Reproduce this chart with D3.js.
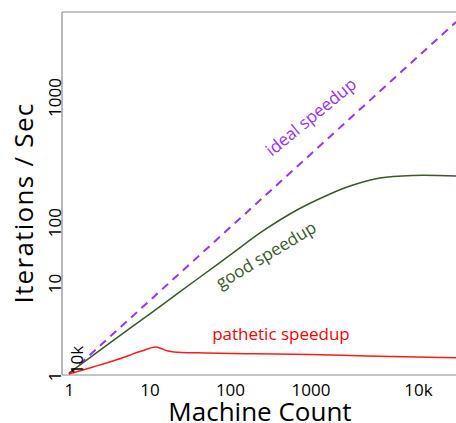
<!DOCTYPE html>
<html>
<head>
<meta charset="utf-8">
<script src="https://cdn.jsdelivr.net/npm/d3@7"></script>
<style>
  html, body { margin: 0; padding: 0; background: #fff; }
  svg { display: block; }
  text { font-family: "Open Sans", "Noto Sans", sans-serif; }
</style>
</head>
<body>
<svg id="chart" width="456" height="423"></svg>
<script>
// ---- data ----
const xTickValues = [1, 10, 100, 1000, 21600];
const xTickLabels = ["1", "10", "100", "1000", "10k"];
const yTickValues = [0.94, 17.5, 119, 6080];
const yTickLabels = ["1", "10", "100", "1000"];

const idealX = [1, 64200];
const idealY = [1, 64200];

const goodX = [1, 5.7, 14.7, 39, 100, 257, 680, 1750, 3100, 7300, 18800, 64200];
const goodY = [1.03, 4.2, 8.95, 19.7, 42.1, 90, 174, 288, 370, 476, 515, 507];

const patheticX = [1, 2, 4, 8, 12, 14, 17, 25, 50, 200, 1000, 5000, 64200];
const patheticY = [1.0, 1.25, 1.58, 2.06, 2.34, 2.23, 2.06, 1.97, 1.94, 1.89, 1.85, 1.76, 1.67];

const annotations = [
  { text: "ideal speedup",    x: 1014, y: 3240, angle: -39.5, color: "#9b30ff" },
  { text: "good speedup",     x: 280,  y: 42.3, angle: -31,   color: "#375a27" },
  { text: "pathetic speedup", x: 430,  y: 3.57, angle: 0,     color: "#ff0000" },
  { text: "10k",              x: 1.26, y: 1.55, angle: -90,   color: "#000000" }
];

// ---- layout ----
const svg = d3.select("#chart");
const mLeft = 62, mTop = 12, mRight = 456, mBottom = 375;

const x = d3.scaleLog().domain([0.82, 64200]).range([mLeft, mRight]);
const y = d3.scaleLog().domain([0.97, 88000]).range([mBottom, mTop]);

svg.append("defs").append("clipPath").attr("id", "clip")
  .append("rect").attr("x", mLeft).attr("y", mTop)
  .attr("width", mRight - mLeft).attr("height", mBottom - mTop);

// frame
const frame = svg.append("g").attr("stroke", "#8a8a8a").attr("stroke-width", 1.2).attr("fill", "none");
frame.append("line").attr("x1", mLeft).attr("x2", mLeft).attr("y1", mTop).attr("y2", mBottom);
frame.append("line").attr("x1", mLeft).attr("x2", mRight).attr("y1", mTop).attr("y2", mTop);
frame.append("line").attr("x1", mLeft).attr("x2", mRight).attr("y1", mBottom).attr("y2", mBottom);

// x axis
const xAxis = d3.axisBottom(x)
  .tickValues(xTickValues)
  .tickFormat((d, i) => xTickLabels[i])
  .tickSize(0).tickPadding(9);
const gx = svg.append("g").attr("transform", `translate(0,${mBottom})`).call(xAxis);
gx.select(".domain").remove();
gx.selectAll("text").attr("font-size", 17).attr("fill", "#000")
  .style("font-family", '"Open Sans", sans-serif');

// y axis (rotated labels)
const yAxis = d3.axisLeft(y)
  .tickValues(yTickValues)
  .tickFormat((d, i) => yTickLabels[i])
  .tickSize(0).tickPadding(0);
const gy = svg.append("g").attr("transform", `translate(${mLeft},0)`).call(yAxis);
gy.select(".domain").remove();
gy.selectAll(".tick text")
  .attr("x", null).attr("dy", null)
  .attr("transform", "translate(-1,0) rotate(-90)")
  .attr("text-anchor", "middle")
  .attr("font-size", 17).attr("fill", "#000")
  .style("font-family", '"Open Sans", sans-serif');

// lines
const plot = svg.append("g").attr("clip-path", "url(#clip)");
const redLine = d3.line().x(d => x(d[0])).y(d => y(d[1])).curve(d3.curveMonotoneX);
const greenLine = d3.line().x(d => x(d[0])).y(d => y(d[1])).curve(d3.curveCatmullRom.alpha(0.5));

plot.append("path")
  .datum(idealX.map((v, i) => [v, idealY[i]]))
  .attr("d", d3.line().x(d => x(d[0])).y(d => y(d[1])))
  .attr("fill", "none").attr("stroke", "#9b30ff").attr("stroke-width", 2)
  .attr("stroke-dasharray", "8,6");

plot.append("path")
  .datum(goodX.map((v, i) => [v, goodY[i]]))
  .attr("d", greenLine)
  .attr("fill", "none").attr("stroke", "#375a27").attr("stroke-width", 1.5);

plot.append("path")
  .datum(patheticX.map((v, i) => [v, patheticY[i]]))
  .attr("d", redLine)
  .attr("fill", "none").attr("stroke", "#ff1a1a").attr("stroke-width", 1.5);

// annotations
svg.append("g").selectAll("text").data(annotations).join("text")
  .attr("transform", d => `translate(${x(d.x)},${y(d.y)}) rotate(${d.angle})`)
  .attr("text-anchor", "middle")
  .attr("dy", "0.35em")
  .attr("font-size", 17)
  .attr("fill", d => d.color)
  .text(d => d.text);

// axis titles
svg.append("text")
  .attr("x", (mLeft + mRight) / 2 + 1).attr("y", 421)
  .attr("text-anchor", "middle").attr("font-size", 26).attr("fill", "#000")
  .text("Machine Count");

svg.append("text")
  .attr("transform", `translate(33,203) rotate(-90)`)
  .attr("text-anchor", "middle").attr("font-size", 26).attr("fill", "#000")
  .attr("letter-spacing", 1.3)
  .text("Iterations / Sec");
</script>
</body>
</html>
